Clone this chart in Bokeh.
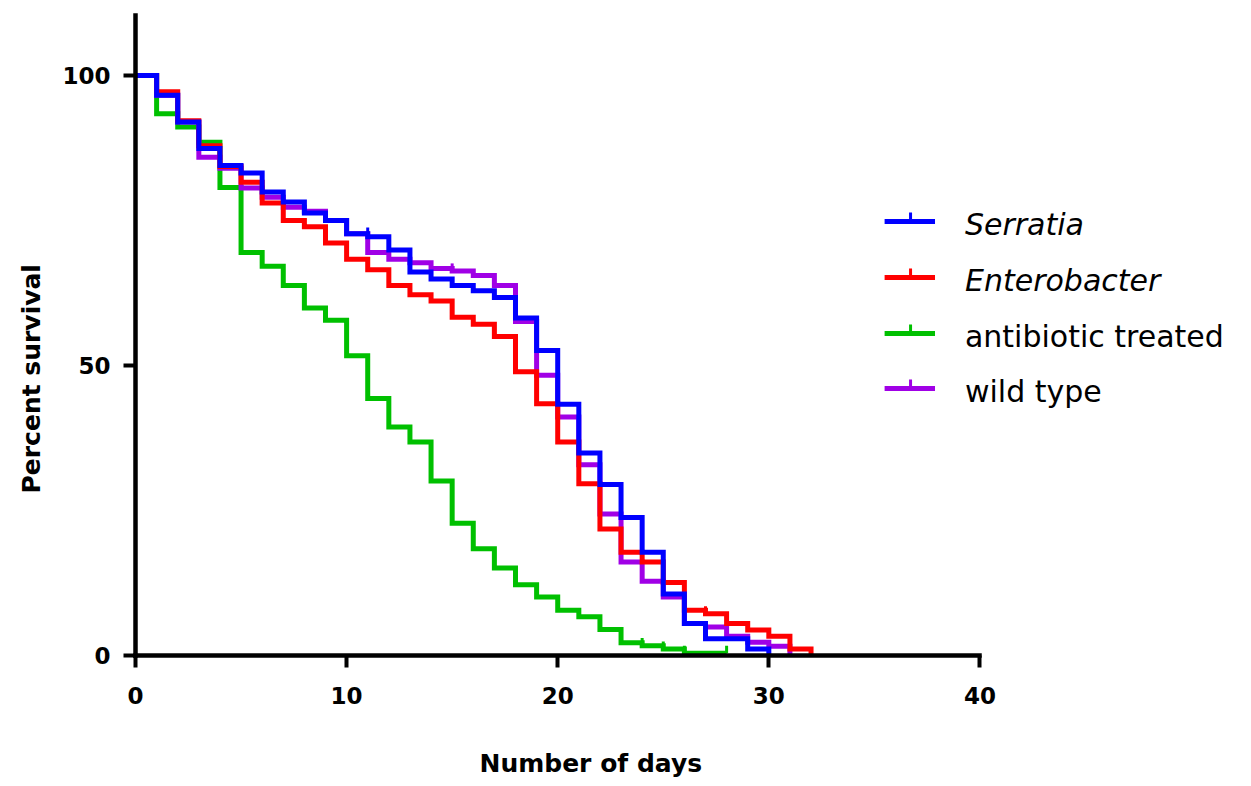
from bokeh.plotting import figure
from bokeh.models import Range1d, FixedTicker, Label, Title
from bokeh.embed import file_html
from bokeh.resources import INLINE

# ---------------- data ----------------
series_names = ["Serratia", "Enterobacter", "antibiotic treated", "wild type"]

serratia_days = list(range(0, 31))
serratia_surv = [100, 96.6, 92.0, 87.4, 84.5, 83.2, 79.9, 78.2, 76.3, 75.0,
                 72.7, 72.2, 69.9, 66.1, 64.9, 63.8, 62.9, 61.7, 58.2, 52.6,
                 43.3, 34.9, 29.5, 23.8, 17.8, 10.6, 5.5, 2.9, 2.9, 1.1, 0]

enterobacter_days = list(range(0, 33))
enterobacter_surv = [100, 97.2, 92.2, 87.9, 84.3, 81.6, 78.0, 75.0, 73.9, 71.1,
                     68.3, 66.5, 63.8, 62.2, 61.1, 58.3, 57.1, 55.0, 48.9, 43.4,
                     36.8, 29.6, 21.8, 17.8, 16.1, 12.6, 7.8, 7.2, 5.5, 4.4,
                     3.3, 1.1, 0]

antibiotic_days = list(range(0, 29))
antibiotic_surv = [100, 93.4, 91.1, 88.5, 80.7, 69.5, 67.1, 63.8, 59.9, 57.8,
                   51.7, 44.3, 39.4, 36.8, 30.1, 22.8, 18.4, 15.1, 12.2, 10.1,
                   7.8, 6.7, 4.5, 2.2, 1.7, 1.1, 0.4, 0.4, 0.4]

wildtype_days = list(range(0, 32))
wildtype_surv = [100, 96.6, 92.0, 85.9, 84.0, 80.6, 79.0, 77.3, 76.6, 75.0,
                 72.7, 69.5, 68.3, 67.7, 66.7, 66.3, 65.5, 63.8, 57.6, 48.3,
                 41.1, 32.9, 24.4, 16.1, 12.8, 10.1, 5.5, 4.9, 3.3, 2.3,
                 1.6, 0]

# censoring marks (day, survival)
serratia_cens_days = [11]
serratia_cens_surv = [72.5]
enterobacter_cens_days = [27]
enterobacter_cens_surv = [7.2]
antibiotic_cens_days = [21, 24, 25, 26, 28]
antibiotic_cens_surv = [6.7, 1.7, 1.1, 0.4, 0.4]
wildtype_cens_days = [15]
wildtype_cens_surv = [66.3]

x_ticks = [0, 10, 20, 30, 40]
y_ticks = [0, 50, 100]
x_title = "Number of days"
y_title = "Percent survival"

colors = {"Serratia": "#0000FF", "Enterobacter": "#FF0000",
          "antibiotic treated": "#00C000", "wild type": "#A000E6"}

# ---------------- figure ----------------
FONT = "DejaVu Sans"
p = figure(width=1245, height=784,
           x_range=Range1d(0, 52.58), y_range=Range1d(0, 110.34),
           output_backend="svg", toolbar_location=None,
           min_border_left=133, min_border_right=0,
           min_border_top=15, min_border_bottom=129)
p.outline_line_color = None
p.xgrid.visible = False
p.ygrid.visible = False
p.background_fill_color = "white"
p.border_fill_color = "white"

for ax in (p.xaxis[0], p.yaxis[0]):
    ax.axis_line_width = 4.5
    ax.axis_line_color = "black"
    ax.axis_line_cap = "square"
    ax.major_tick_line_width = 4
    ax.major_tick_line_color = "black"
    ax.major_tick_out = 12
    ax.major_tick_in = 0
    ax.minor_tick_line_color = None
    ax.major_label_text_font = FONT
    ax.major_label_text_font_style = "bold"
    ax.major_label_text_font_size = "23px"
    ax.major_label_text_color = "black"

p.xaxis.ticker = FixedTicker(ticks=x_ticks)
p.yaxis.ticker = FixedTicker(ticks=y_ticks)
p.xaxis.bounds = (0, 40)
p.xaxis.major_label_standoff = 19
p.yaxis.major_label_standoff = 13

# ---------------- axis titles as side-panel titles (offset like the reference) ----------------
# small blank spacer between the x axis and its title
p.add_layout(Title(text=" ", text_font_size="1px", standoff=37), "below")
p.add_layout(Title(text=x_title, align="left", offset=344, standoff=0,
                   vertical_align="bottom",
                   text_font=FONT, text_font_size="25px", text_font_style="bold",
                   text_color="black"), "below")
p.add_layout(Title(text=y_title, align="left", offset=162, standoff=28,
                   text_font=FONT, text_font_size="25px", text_font_style="bold",
                   text_color="black"), "left")

# ---------------- curves ----------------
curves = [
    ("antibiotic treated", antibiotic_days, antibiotic_surv, antibiotic_cens_days, antibiotic_cens_surv),
    ("wild type", wildtype_days, wildtype_surv, wildtype_cens_days, wildtype_cens_surv),
    ("Enterobacter", enterobacter_days, enterobacter_surv, enterobacter_cens_days, enterobacter_cens_surv),
    ("Serratia", serratia_days, serratia_surv, serratia_cens_days, serratia_cens_surv),
]
TICK_H = 1.3  # censor tick height in percent units
LW = 5
for name, d, s, cd, cs in curves:
    p.step(d, s, mode="after", line_width=LW, line_color=colors[name], line_join="miter")
    p.segment(x0=cd, y0=cs, x1=cd, y1=[v + TICK_H for v in cs],
              line_width=3, line_color=colors[name])

# ---------------- legend (manual, positioned in pixels) ----------------
X0_PX, PX_PER_DAY = 133.0, 21.15
Y0_PX, PX_PER_PCT = 655.0, 5.8
def px2x(px):
    return (px - X0_PX) / PX_PER_DAY
def py2y(py):
    return (Y0_PX - py) / PX_PER_PCT

legend_rows = [("Serratia", 221, "italic"), ("Enterobacter", 277, "italic"),
               ("antibiotic treated", 333, "normal"), ("wild type", 388, "normal")]
for name, ly, style in legend_rows:
    c = colors[name]
    p.line([px2x(883.5), px2x(934)], [py2y(ly), py2y(ly)], line_width=LW, line_color=c)
    p.line([px2x(909.5), px2x(909.5)], [py2y(ly), py2y(ly - 9)], line_width=3, line_color=c)
    p.add_layout(Label(x=px2x(964), y=py2y(ly + 3), text=name,
                       text_font=FONT, text_font_size="30px", text_font_style=style,
                       text_color="black", text_align="left", text_baseline="alphabetic"))

open("out.html", "w").write(file_html(p, INLINE))
